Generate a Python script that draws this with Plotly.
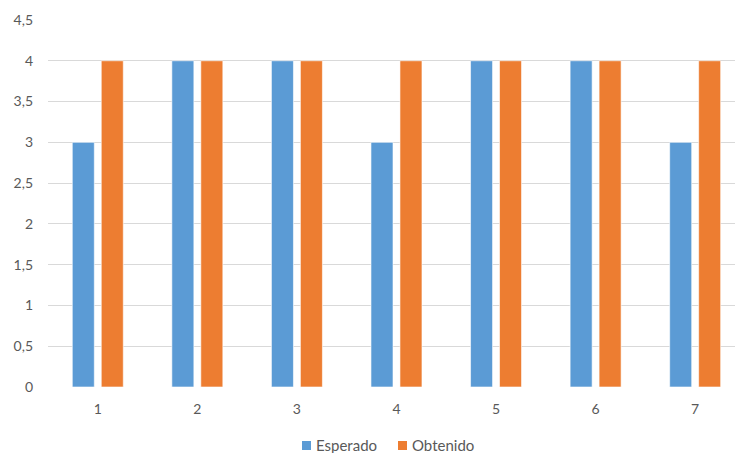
import plotly.graph_objects as go

# Data
categorias = [1, 2, 3, 4, 5, 6, 7]
esperado = [3, 4, 4, 3, 4, 4, 3]
obtenido = [4, 4, 4, 4, 4, 4, 4]
ticks_y = [0, 0.5, 1, 1.5, 2, 2.5, 3, 3.5, 4, 4.5]
series = ["Esperado", "Obtenido"]

AZUL = "#5B9BD5"
NARANJA = "#ED7D31"
GRIS_TEXTO = "#595959"
GRIS_REJILLA = "#D9D9D9"
FUENTE = "Lato, 'Open Sans', sans-serif"

fig = go.Figure()
fig.add_trace(go.Bar(x=categorias, y=esperado, name=series[0],
                     marker=dict(color=AZUL, line=dict(color="white", width=0.6))))
fig.add_trace(go.Bar(x=categorias, y=obtenido, name=series[1],
                     marker=dict(color=NARANJA, line=dict(color="white", width=0.6))))

# Plot area in pixels: x 48..735, y 20..387
W_AREA, H_AREA, X0, Y0 = 687.0, 367.0, 48.0, 387.0


def px_x(px):
    return (px - X0) / W_AREA


def px_y(py):
    return (Y0 - py) / H_AREA


# Compact legend below the plot: small square + label for each series
leyenda = [(series[0], AZUL, 302), (series[1], NARANJA, 398)]
shapes, annotations = [], []
for nombre, color, xpx in leyenda:
    shapes.append(dict(type="rect", xref="paper", yref="paper",
                       x0=px_x(xpx), x1=px_x(xpx + 9),
                       y0=px_y(450), y1=px_y(441),
                       fillcolor=color, line=dict(width=0)))
    annotations.append(dict(xref="paper", yref="paper", x=px_x(xpx + 12), y=px_y(445),
                            xanchor="left", yanchor="middle", showarrow=False,
                            text=nombre, font=dict(family=FUENTE, size=15, color=GRIS_TEXTO)))

fig.update_layout(
    width=735, height=453,
    margin=dict(l=48, r=0, t=20, b=66),
    paper_bgcolor="white", plot_bgcolor="white",
    barmode="group", bargap=0.418, bargroupgap=0.24,
    separators=", ",
    font=dict(family=FUENTE, size=14, color=GRIS_TEXTO),
    showlegend=False,
    shapes=shapes,
    annotations=annotations,
)

fig.update_xaxes(
    range=[0.5, 7.4], tickmode="array", tickvals=categorias,
    ticktext=[str(c) for c in categorias],
    showgrid=False, zeroline=False, showline=False, ticks="",
    ticklabelstandoff=12,
)
fig.update_yaxes(
    range=[0, 4.5], tickmode="array", tickvals=ticks_y,
    showgrid=True, gridcolor=GRIS_REJILLA, gridwidth=1,
    zeroline=False, showline=False, ticks="",
    ticklabelstandoff=14,
)

fig.write_html("out.html")
